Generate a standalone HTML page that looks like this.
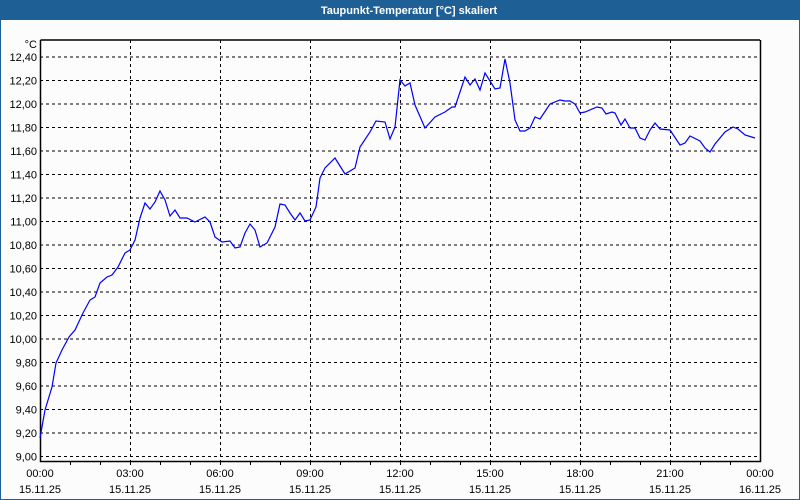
<!DOCTYPE html>
<html><head><meta charset="utf-8"><style>
body{margin:0;background:#fff}
svg{display:block}
text{font-family:"Liberation Sans",sans-serif;font-size:11px;fill:#000}
</style></head><body>
<svg width="800" height="500" xmlns="http://www.w3.org/2000/svg">
<rect x="0" y="0" width="800" height="500" fill="#fcfcfc"/>
<rect x="0.5" y="0.5" width="799" height="499" fill="none" stroke="#1e5f96" stroke-width="1"/>
<rect x="0" y="0" width="800" height="20" fill="#1e5f96"/>
<text x="409" y="14" text-anchor="middle" style="fill:#fff;font-weight:bold;font-size:11px">Taupunkt-Temperatur [°C] skaliert</text>
<g stroke="#000" stroke-dasharray="3,3" stroke-width="1">
<path d="M40 456.5H760M40 433H760M40 409.5H760M40 386H760M40 362.5H760M40 339H760M40 315.5H760M40 292H760M40 268.5H760M40 245H760M40 221.5H760M40 198H760M40 174.5H760M40 151H760M40 127.5H760M40 104H760M40 80.5H760M40 57H760"/>
<path d="M130.5 40V461M220.5 40V461M310.5 40V461M400.5 40V461M490.5 40V461M580.5 40V461M670.5 40V461"/>
</g>
<g stroke="#000" stroke-width="1.5" fill="none">
<path d="M40.5 40V461.5H760.5V40"/>
<path d="M40.5 40H760"/>
</g>
<g stroke="#000" stroke-width="1">
<path d="M70.5 461V465M100.5 461V465M130.5 461V465M160.5 461V465M190.5 461V465M220.5 461V465M250.5 461V465M280.5 461V465M310.5 461V465M340.5 461V465M370.5 461V465M400.5 461V465M430.5 461V465M460.5 461V465M490.5 461V465M520.5 461V465M550.5 461V465M580.5 461V465M610.5 461V465M640.5 461V465M670.5 461V465M700.5 461V465M730.5 461V465"/>
</g>
<g text-anchor="end">
<text x="37" y="48">°C</text>
<text x="37" y="61">12,40</text><text x="37" y="84.5">12,20</text><text x="37" y="108">12,00</text>
<text x="37" y="131.5">11,80</text><text x="37" y="155">11,60</text><text x="37" y="178.5">11,40</text>
<text x="37" y="202">11,20</text><text x="37" y="225.5">11,00</text><text x="37" y="249">10,80</text>
<text x="37" y="272.5">10,60</text><text x="37" y="296">10,40</text><text x="37" y="319.5">10,20</text>
<text x="37" y="343">10,00</text><text x="37" y="366.5">9,80</text><text x="37" y="390">9,60</text>
<text x="37" y="413.5">9,40</text><text x="37" y="437">9,20</text><text x="37" y="460.5">9,00</text>
</g>
<g text-anchor="middle">
<text x="40" y="477">00:00</text><text x="40" y="493">15.11.25</text>
<text x="130" y="477">03:00</text><text x="130" y="493">15.11.25</text>
<text x="220" y="477">06:00</text><text x="220" y="493">15.11.25</text>
<text x="310" y="477">09:00</text><text x="310" y="493">15.11.25</text>
<text x="400" y="477">12:00</text><text x="400" y="493">15.11.25</text>
<text x="490" y="477">15:00</text><text x="490" y="493">15.11.25</text>
<text x="580" y="477">18:00</text><text x="580" y="493">15.11.25</text>
<text x="670" y="477">21:00</text><text x="670" y="493">15.11.25</text>
<text x="760" y="477">00:00</text><text x="760" y="493">16.11.25</text>
</g>
<polyline fill="none" stroke="#0000ff" stroke-width="1.2" points="40,438 45,410 52,387 56,363 62,350 69,337 75,330 83,313 90,300 95,297 100,283 107,277 112,275 118,267 125,253 130,250 135,240 140,218 145,203 150,209 155,202 160,191 165,200 170,216 175,210 180,218 187,218 195,222 205,217 210,222 215,237 222,242 230,241 235,248 240,247 245,233 250,224 255,230 260,247 267,243 275,227 280,204 285,205 290,213 295,220 300,213 305,221 310,220 316,207 320,178 325,168 335,158 345,174 355,168 360,147 370,132 376,121 385,122 390,139 395,127 400,80 405,86 410,83 415,105 425,128 435,117 445,112 452,107 455,107 465,77 470,85 475,79 480,90 485,73 495,89 500,88 505,59 510,83 515,120 520,131 525,131 530,128 535,117 540,119 550,104 560,100 565,101 570,101 575,104 580,113 585,112 597,107 602,108 606,114 612,112 615,113 621,125 625,119 630,128 635,128 640,138 645,140 650,130 655,123 660,129 670,130 680,145 685,143 690,136 700,141 705,148 710,152 715,144 725,132 733,127 738,129 745,135 755,138"/>
</svg>
</body></html>
